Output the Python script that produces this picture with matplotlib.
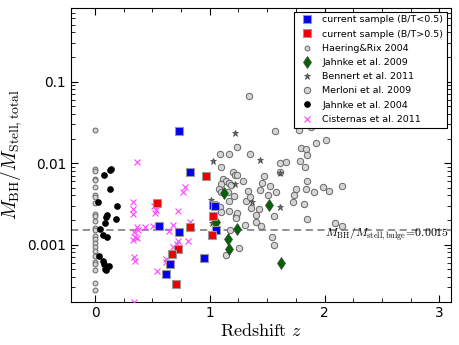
import numpy as np
import matplotlib
matplotlib.use("Agg")
import matplotlib.pyplot as plt
from matplotlib.ticker import MultipleLocator, FixedLocator, FixedFormatter

plt.rcParams['mathtext.fontset'] = 'cm'

# current sample, B/T < 0.5 (blue) and B/T > 0.5 (red)
blue_z = [0.826, 0.559, 0.733, 0.950, 0.652, 0.615, 0.730, 1.029, 1.043, 1.058]
blue_r = [0.0077, 0.00171, 0.00144, 0.00069, 0.00057, 0.00043, 0.025, 0.0031, 0.0030, 0.00149]
red_z = [0.965, 0.537, 0.832, 0.724, 0.667, 0.710, 1.029, 1.023]
red_r = [0.00703, 0.00321, 0.00163, 0.00089, 0.00077, 0.00033, 0.00227, 0.00132]

# Haering & Rix 2004 (local)
hr_r = [0.0255, 0.00857, 0.0081, 0.00645, 0.0062, 0.00505, 0.0041, 0.0038, 0.00321,
        0.00238, 0.00225, 0.00197, 0.0016, 0.00149, 0.00129, 0.00117, 0.00104,
        0.00093, 0.00083, 0.00072, 0.00061, 0.00058, 0.00049, 0.000335, 0.00028]
hr_z = [0.0] * len(hr_r)

# Jahnke et al. 2009
j09_z = [1.122, 1.516, 1.058, 1.241, 1.159, 1.168, 1.623]
j09_r = [0.00426, 0.0031, 0.00188, 0.00157, 0.00116, 0.00089, 0.00059]

# Bennert et al. 2011
ben_z = [1.029, 1.009, 1.017, 1.217, 1.441, 1.609, 1.217, 1.365, 1.609]
ben_r = [0.0107, 0.00356, 0.00186, 0.0235, 0.011, 0.0075, 0.0056, 0.00337, 0.00293]

# Merloni et al. 2009
mer_z = [1.237, 1.093, 1.165, 1.348, 1.102, 1.203, 1.217, 1.241, 1.116, 1.139,
         1.290, 1.165, 1.183, 1.102, 1.081, 1.102, 1.159, 1.215, 1.333, 1.313,
         1.348, 1.363, 1.429, 1.406, 1.400, 1.443, 1.307, 1.093, 1.102, 1.168,
         1.226, 1.241, 1.232, 1.177, 1.252, 1.142, 1.435, 1.455, 1.472, 1.522,
         1.507, 1.580, 1.563, 1.545, 1.557, 1.615, 1.667, 1.342, 1.565, 1.774,
         1.884, 1.928, 2.015, 1.797, 1.835, 1.850, 1.789, 1.826, 1.850, 1.748,
         1.841, 1.904, 1.991, 2.043, 2.154, 1.733, 1.724, 1.820, 1.850, 2.087,
         2.154, 1.609, 1.168]
mer_r = [0.0156, 0.0130, 0.0130, 0.0130, 0.00887, 0.0077, 0.00716, 0.00716, 0.0064, 0.0061,
         0.00598, 0.00565, 0.0054, 0.00556, 0.00482, 0.00438, 0.00438, 0.00399, 0.0046, 0.00347,
         0.0038, 0.00279, 0.00274, 0.00233, 0.00188, 0.00171, 0.00176, 0.00287, 0.00249, 0.00261,
         0.00227, 0.00242, 0.0021, 0.00149, 0.00091, 0.00075, 0.00469, 0.00571, 0.00703, 0.0053,
         0.00407, 0.00438, 0.00222, 0.00125, 0.00099, 0.00995, 0.0102, 0.0673, 0.0245, 0.0251,
         0.0275, 0.0177, 0.0193, 0.0152, 0.0149, 0.0127, 0.0107, 0.00906, 0.00598, 0.00482,
         0.00482, 0.00438, 0.00505, 0.00451, 0.0053, 0.0041, 0.00334, 0.00316, 0.00207, 0.00185,
         0.00168, 0.0077, 0.00347]

# Jahnke et al. 2004
j04_z = [0.081, 0.130, 0.139, 0.130, 0.029, 0.194, 0.104, 0.096, 0.183, 0.090,
         0.043, 0.067, 0.107, 0.035, 0.072, 0.078, 0.124, 0.090, 0.100]
j04_r = [0.00722, 0.00826, 0.0084, 0.00482, 0.0033, 0.00295, 0.00233, 0.00216, 0.00203, 0.00185,
         0.00154, 0.0013, 0.00124, 0.00073, 0.00062, 0.00058, 0.00054, 0.0005, 0.00049]

# Cisternas et al. 2011
cis_z = [0.363, 0.333, 0.333, 0.333, 0.363, 0.377, 0.339, 0.348, 0.368, 0.333,
         0.435, 0.342, 0.348, 0.339, 0.513, 0.530, 0.522, 0.507, 0.783, 0.768,
         0.724, 0.681, 0.646, 0.826, 0.811, 0.724, 0.716, 0.676, 0.615, 0.623, 0.542]
cis_r = [0.0102, 0.0033, 0.00274, 0.00238, 0.00166, 0.00151, 0.00142, 0.00125, 0.00121, 0.00114,
         0.00166, 0.0007, 0.00062, 0.0002, 0.00301, 0.00267, 0.00242, 0.00171, 0.00515, 0.00438,
         0.00261, 0.00176, 0.00146, 0.00188, 0.00112, 0.00112, 0.00102, 0.00093, 0.00067, 0.00061,
         0.00047]

bulge_ratio = 0.0015

fig = plt.figure(figsize=(4.6, 3.45), dpi=100)
ax = fig.add_axes([0.154, 0.126, 0.826, 0.851])

ax.axhline(bulge_ratio, color='#888888', ls='--', lw=1.3, dashes=(4, 2.5), zorder=1)

ax.plot(blue_z, blue_r, 's', ms=5.5, mfc='#0000ee', mec='#999999', mew=0.8,
        label='current sample (B/T<0.5)', zorder=5)
ax.plot(red_z, red_r, 's', ms=5.5, mfc='#ee0000', mec='#999999', mew=0.8,
        label='current sample (B/T>0.5)', zorder=5)
ax.plot(hr_z, hr_r, 'o', ms=3.5, mfc='#d4d4d4', mec='#666666', mew=0.7,
        label='Haering&Rix 2004', zorder=3)
ax.plot(j09_z, j09_r, 'd', ms=6.5, mfc='#006400', mec='#444444', mew=0.5,
        label='Jahnke et al. 2009', zorder=4)
ax.plot(ben_z, ben_r, '*', ms=4.5, mfc='#666666', mec='#444444', mew=0.5,
        label='Bennert et al. 2011', zorder=3)
ax.plot(mer_z, mer_r, 'o', ms=4.6, mfc='#d4d4d4', mec='#666666', mew=0.7,
        label='Merloni et al. 2009', zorder=2)
ax.plot(j04_z, j04_r, 'o', ms=3.8, mfc='black', mec='black',
        label='Jahnke et al. 2004', zorder=3)
ax.plot(cis_z, cis_r, 'x', ms=4.5, color='#ff44ff', mew=0.8,
        label='Cisternas et al. 2011', zorder=3)

ax.text(2.0, 0.00135, r'$M_{\rm BH}/M_{\rm stell,bulge}\!=\!0.0015$',
        fontsize=8.5, ha='left', va='center')

ax.set_yscale('log')
ax.set_xlim(-0.21, 3.1)
ax.set_ylim(2e-4, 0.8)
ax.xaxis.set_major_locator(MultipleLocator(1))
ax.xaxis.set_minor_locator(MultipleLocator(0.25))
ax.yaxis.set_major_locator(FixedLocator([0.001, 0.01, 0.1]))
ax.yaxis.set_major_formatter(FixedFormatter(['0.001', '0.01', '0.1']))
ax.tick_params(which='both', direction='in', top=True, right=True, labelsize=9.8)
ax.tick_params(which='major', length=5)
ax.tick_params(which='minor', length=3)

ax.set_xlabel(r'${\rm Redshift}\ z$', fontsize=13, labelpad=1)
ax.set_ylabel(r'$M_{\rm BH}/M_{\rm Stell,total}$', fontsize=14, labelpad=2)

leg = ax.legend(loc='upper right', numpoints=1, fontsize=6.8, fancybox=False,
                framealpha=1, borderaxespad=0.4, labelspacing=0.55, handletextpad=0.6)
leg.get_frame().set_edgecolor('black')
leg.get_frame().set_linewidth(0.8)

fig.savefig('out.png', dpi=100)
